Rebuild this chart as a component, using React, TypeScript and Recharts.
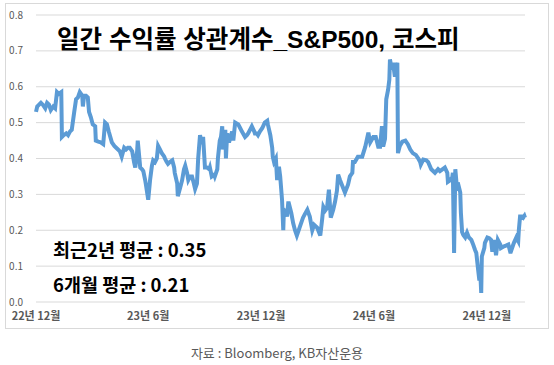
import React from "react";
import { LineChart, Line, XAxis, YAxis, CartesianGrid } from "recharts";

// day offset from 2022-12-01
const DAYS = [
  0, 2, 5, 8, 11, 15, 18, 21, 24, 28, 31, 34, 37, 41, 42, 45, 49, 52, 55, 58,
  62, 65, 68, 71, 75, 76, 78, 81, 84, 86, 89, 92, 96, 97, 101, 105, 109, 112, 115, 118,
  123, 127, 130, 133, 136, 139, 143, 146, 149, 152, 156, 159, 161, 164, 165, 169, 172, 174, 177, 178,
  182, 185, 188, 190, 193, 196, 198, 201, 204, 208, 209, 212, 214, 217, 221, 224, 225, 229, 230, 234,
  237, 240, 242, 245, 247, 250, 253, 256, 258, 261, 263, 266, 269, 271, 274, 277, 281, 282, 285, 289,
  290, 294, 295, 298, 300, 302, 303, 307, 308, 310, 313, 318, 320, 323, 328, 331, 334, 339, 342, 344,
  347, 350, 354, 355, 358, 360, 363, 367, 371, 375, 376, 380, 383, 384, 386, 389, 391, 394, 396, 399,
  401, 402, 406, 407, 409, 410, 414, 417, 420, 423, 428, 433, 436, 440, 444, 448, 451, 456, 461, 464,
  466, 469, 472, 475, 478, 482, 485, 488, 490, 493, 496, 501, 506, 509, 513, 514, 517, 522, 529, 534,
  539, 542, 547, 551, 555, 558, 561, 563, 566, 568, 571, 573, 574, 577, 579, 582, 586, 587, 590, 594,
  599, 603, 607, 611, 616, 620, 623, 624, 628, 633, 636, 641, 644, 647, 652, 655, 659, 663, 667, 668,
  672, 675, 676, 678, 680, 683, 684, 688, 689, 691, 693, 696, 699, 702, 706, 709, 712, 714, 717, 719,
  720, 722, 723, 727, 728, 732, 735, 738, 740, 743, 746, 749, 753, 754, 759, 762, 766, 769, 770, 775,
  779, 782, 783, 785, 788, 790, 792, 793,
];

const CORR = [
  0.53, 0.545, 0.55, 0.555, 0.55, 0.54, 0.555, 0.55, 0.535, 0.545, 0.54, 0.585, 0.58, 0.585, 0.46, 0.465, 0.47, 0.465, 0.475, 0.48,
  0.53, 0.565, 0.57, 0.585, 0.575, 0.545, 0.575, 0.575, 0.57, 0.53, 0.515, 0.495, 0.49, 0.45, 0.447, 0.445, 0.44, 0.5, 0.495, 0.475,
  0.445, 0.435, 0.43, 0.425, 0.42, 0.405, 0.43, 0.425, 0.43, 0.43, 0.42, 0.39, 0.375, 0.42, 0.45, 0.375, 0.37, 0.365, 0.34, 0.33,
  0.285, 0.34, 0.38, 0.395, 0.39, 0.4, 0.435, 0.425, 0.415, 0.405, 0.4, 0.39, 0.385, 0.39, 0.395, 0.375, 0.36, 0.33, 0.295, 0.32,
  0.34, 0.37, 0.38, 0.36, 0.34, 0.35, 0.35, 0.33, 0.315, 0.33, 0.4, 0.465, 0.44, 0.46, 0.375, 0.375, 0.37, 0.375, 0.35, 0.355,
  0.35, 0.37, 0.4, 0.45, 0.46, 0.49, 0.425, 0.48, 0.4, 0.47, 0.445, 0.475, 0.45, 0.5, 0.495, 0.485, 0.475, 0.46, 0.465, 0.47,
  0.48, 0.49, 0.475, 0.47, 0.47, 0.465, 0.475, 0.485, 0.5, 0.505, 0.495, 0.465, 0.43, 0.405, 0.39, 0.4, 0.34, 0.377, 0.35, 0.285,
  0.2, 0.257, 0.25, 0.238, 0.275, 0.275, 0.248, 0.22, 0.2, 0.185, 0.21, 0.235, 0.245, 0.257, 0.238, 0.2, 0.215, 0.207, 0.185, 0.23,
  0.265, 0.255, 0.262, 0.313, 0.235, 0.257, 0.28, 0.31, 0.355, 0.34, 0.327, 0.305, 0.327, 0.35, 0.36, 0.39, 0.39, 0.405, 0.405, 0.433,
  0.472, 0.445, 0.46, 0.46, 0.433, 0.433, 0.49, 0.433, 0.455, 0.565, 0.592, 0.62, 0.676, 0.648, 0.667, 0.628, 0.667, 0.415, 0.435, 0.447,
  0.45, 0.44, 0.425, 0.415, 0.41, 0.4, 0.39, 0.383, 0.397, 0.395, 0.39, 0.37, 0.365, 0.36, 0.37, 0.365, 0.37, 0.375, 0.36, 0.335,
  0.34, 0.347, 0.36, 0.137, 0.37, 0.31, 0.333, 0.305, 0.25, 0.195, 0.187, 0.18, 0.193, 0.18, 0.173, 0.16, 0.145, 0.137, 0.09, 0.06,
  0.1, 0.025, 0.127, 0.15, 0.165, 0.18, 0.178, 0.173, 0.14, 0.173, 0.13, 0.173, 0.16, 0.15, 0.155, 0.157, 0.16, 0.14, 0.14, 0.165,
  0.18, 0.17, 0.2, 0.238, 0.238, 0.235, 0.24, 0.235,
];

const X_TICKS = [0, 182, 365, 548, 731];
const X_LABELS = ["22년 12월", "23년 6월", "23년 12월", "24년 6월", "24년 12월"];
const Y_TICKS = [0, 0.1, 0.2, 0.3, 0.4, 0.5, 0.6, 0.7, 0.8];

const data = DAYS.map((d, i) => ({ d, v: CORR[i] }));

const KR = "'Noto Sans CJK KR', 'Noto Sans', sans-serif";

export default function App() {
  return (
    <div style={{ position: "absolute", left: 0, top: 0, width: 554, height: 365, background: "#fff", fontFamily: KR }}>
      <div style={{ position: "absolute", left: 5, top: 3, width: 542, height: 324, border: "1px solid #D9D9D9" }} />
      <LineChart width={554} height={365} data={data} margin={{ top: 15, right: 29, left: 0, bottom: 0 }}>
        <CartesianGrid vertical={false} stroke="#D9D9D9" />
        <XAxis
          dataKey="d" type="number" domain={[0, 793]} ticks={X_TICKS} height={63}
          axisLine={false} tickLine={false} tickMargin={4} interval={0}
          tickFormatter={(t) => X_LABELS[X_TICKS.indexOf(t)]}
          tick={{ fontSize: 11, fill: "#595959", fontFamily: KR, fontWeight: 700 }}
        />
        <YAxis
          type="number" domain={[0, 0.8]} ticks={Y_TICKS} width={36}
          axisLine={false} tickLine={false} tickMargin={7}
          tickFormatter={(t) => t.toFixed(1)}
          tick={{ fontSize: 10, fill: "#595959", fontFamily: KR }}
        />
        <Line dataKey="v" type="linear" stroke="#5B9BD5" strokeWidth={4} dot={false} isAnimationActive={false} />
      </LineChart>
      <div style={{ position: "absolute", left: 57, top: 20, fontSize: 24.5, fontWeight: 700, color: "#000", whiteSpace: "nowrap", fontFamily: "'Liberation Sans', " + KR }}>
        일간 수익률 상관계수_S&amp;P500, 코스피
      </div>
      <div style={{ position: "absolute", left: 53, top: 236, fontSize: 18.5, fontWeight: 700, color: "#000", whiteSpace: "nowrap" }}>
        최근2년 평균 : 0.35
      </div>
      <div style={{ position: "absolute", left: 53, top: 271, fontSize: 18.5, fontWeight: 700, color: "#000", whiteSpace: "nowrap" }}>
        6개월 평균 : 0.21
      </div>
      <div style={{ position: "absolute", left: 0, width: 554, top: 343, textAlign: "center", fontSize: 13, color: "#595959", whiteSpace: "nowrap" }}>
        자료 : Bloomberg, KB자산운용
      </div>
    </div>
  );
}
